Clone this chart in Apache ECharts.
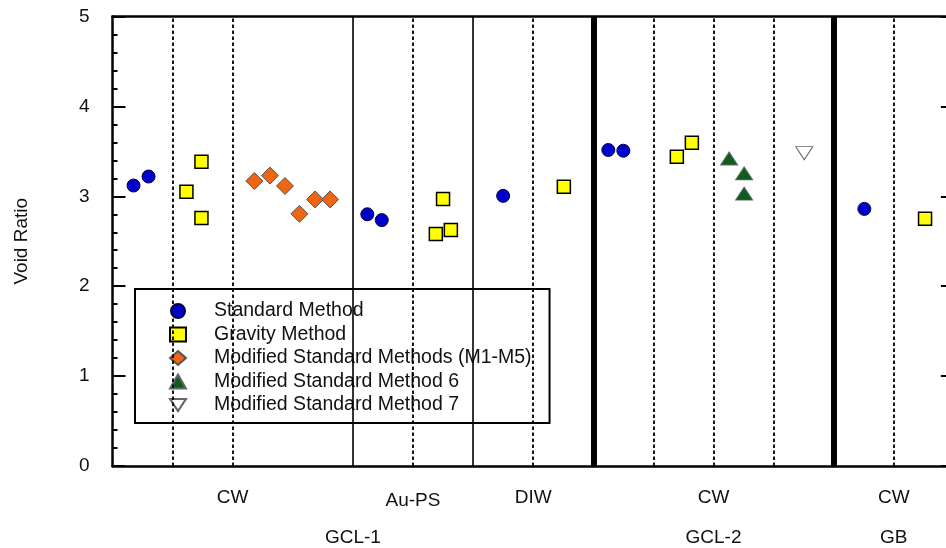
<!DOCTYPE html>
<html>
<head>
<meta charset="utf-8">
<title>Void Ratio</title>
<script src="https://cdn.jsdelivr.net/npm/echarts@6/dist/echarts.min.js"></script>
<style>
html, body { margin: 0; padding: 0; background: #fff; }
#chart { width: 946px; height: 548px; }
</style>
</head>
<body>
<div id="chart"></div>
<script>
// x = position along the test slots (each slot is 1 unit wide), y = void ratio
var standardX = [0.35, 0.60, 4.24, 4.48, 6.50, 8.25, 8.50, 12.51];
var standardY = [3.12, 3.22, 2.80, 2.735, 3.005, 3.515, 3.507, 2.86];
var gravityX = [1.23, 1.48, 1.48, 5.38, 5.50, 5.63, 7.51, 9.39, 9.64, 13.52];
var gravityY = [3.05, 3.385, 2.76, 2.58, 2.97, 2.625, 3.105, 3.44, 3.596, 2.75];
var modifiedX = [2.36, 2.62, 2.87, 3.11, 3.37, 3.62];
var modifiedY = [3.17, 3.23, 3.115, 2.805, 2.965, 2.965];
var method6X = [10.26, 10.51, 10.51];
var method6Y = [3.42, 3.255, 3.03];
var method7X = [11.51];
var method7Y = [3.48];

var fluidLabelAt = [2, 5, 7, 10, 13];
var fluidLabels = ['CW', 'Au-PS', 'DIW', 'CW', 'CW'];
var materialLabelAt = [4, 10, 13];
var materialLabels = ['GCL-1', 'GCL-2', 'GB'];

var dashedDividers = [1, 2, 5, 7, 9, 10, 11, 13];
var thinDividers = [4, 6];
var thickDividers = [8, 12];

var font = 'Liberation Sans, Arial, Helvetica, sans-serif';
var downTriangle = 'path://M0,0 L34,0 L17,26 Z';

function zip(xs, ys) {
    var out = [];
    for (var i = 0; i < xs.length; i++) out.push([xs[i], ys[i]]);
    return out;
}

function labelFor(at, labels, rich) {
    return function (v) {
        var i = at.indexOf(Math.round(v));
        if (i < 0 || Math.abs(v - at[i]) > 1e-6) return '';
        if (rich && labels[i] === 'Au-PS') return '{low|' + labels[i] + '}';
        return labels[i];
    };
}

var dividerLines = [];
dashedDividers.forEach(function (x) {
    dividerLines.push({xAxis: x, lineStyle: {color: '#000', width: 1.8, type: [3.5, 2.5]}});
});
thinDividers.forEach(function (x) {
    dividerLines.push({xAxis: x, lineStyle: {color: '#000', width: 1.6, type: 'solid'}});
});
thickDividers.forEach(function (x) {
    dividerLines.push({xAxis: x, lineStyle: {color: '#000', width: 6, type: 'solid'}});
});

var chart = echarts.init(document.getElementById('chart'));

var xBase = {
    type: 'value', min: 0, max: 14, interval: 1,
    splitLine: {show: false},
    axisTick: {show: false}
};

chart.setOption({
    animation: false,
    textStyle: {fontFamily: font},
    grid: {left: 112.5, top: 16.5, width: 841.4, height: 449.5, outerBoundsMode: 'none', containLabel: false},
    legend: {
        orient: 'vertical',
        left: 135, top: 289,
        padding: [12, 18, 8, 34],
        itemWidth: 16, itemHeight: 14, itemGap: 3.5,
        symbolKeepAspect: true,
        borderColor: '#000', borderWidth: 2,
        backgroundColor: '#fff',
        textStyle: {fontSize: 19.5, color: '#111', fontFamily: font, padding: [0, 0, 0, 23]},
        data: ['Standard Method', 'Gravity Method', 'Modified Standard Methods (M1-M5)',
               'Modified Standard Method 6', 'Modified Standard Method 7']
    },
    xAxis: [
        Object.assign({}, xBase, {
            position: 'bottom',
            axisLine: {show: true, onZero: false, lineStyle: {color: '#000', width: 2.5}},
            axisLabel: {
                margin: 22, fontSize: 19, color: '#111', fontFamily: font,
                formatter: labelFor(fluidLabelAt, fluidLabels, true),
                rich: {low: {fontSize: 19, color: '#111', fontFamily: font, padding: [3, 0, 0, 0]}}
            }
        }),
        Object.assign({}, xBase, {
            position: 'bottom', offset: 40,
            axisLine: {show: false, onZero: false},
            axisLabel: {
                margin: 22, fontSize: 19, color: '#111', fontFamily: font,
                formatter: labelFor(materialLabelAt, materialLabels, false)
            }
        }),
        Object.assign({}, xBase, {
            position: 'top',
            axisLine: {show: true, onZero: false, lineStyle: {color: '#000', width: 2.5}},
            axisLabel: {show: false}
        })
    ],
    yAxis: [
        {
            type: 'value', min: 0, max: 5, interval: 1,
            position: 'left',
            name: 'Void Ratio', nameLocation: 'middle', nameGap: 81, nameRotate: 90,
            nameTextStyle: {fontSize: 19, color: '#111', fontFamily: font},
            splitLine: {show: false},
            axisLine: {show: true, onZero: false, lineStyle: {color: '#000', width: 2.5}},
            axisTick: {show: true, inside: true, length: 13, lineStyle: {color: '#000', width: 2}},
            minorTick: {show: true, splitNumber: 5, length: 5, lineStyle: {color: '#000', width: 2}},
            axisLabel: {margin: 23, fontSize: 19, color: '#111', fontFamily: font}
        },
        {
            type: 'value', min: 0, max: 5, interval: 1,
            position: 'right',
            splitLine: {show: false},
            axisLine: {show: true, onZero: false, lineStyle: {color: '#000', width: 2.5}},
            axisTick: {show: true, inside: true, length: 13, lineStyle: {color: '#000', width: 2}},
            minorTick: {show: true, splitNumber: 5, length: 5, lineStyle: {color: '#000', width: 2}},
            axisLabel: {show: false}
        }
    ],
    series: [
        {
            name: 'Standard Method', type: 'scatter',
            symbol: 'circle', symbolSize: 13,
            itemStyle: {color: '#0000cc', borderColor: '#000044', borderWidth: 1, opacity: 1},
            data: zip(standardX, standardY),
            markLine: {
                silent: true, symbol: ['none', 'none'], label: {show: false},
                animation: false, data: dividerLines
            }
        },
        {
            name: 'Gravity Method', type: 'scatter',
            symbol: 'rect', symbolSize: 13,
            itemStyle: {color: '#ffff00', borderColor: '#000', borderWidth: 1.5, opacity: 1},
            data: zip(gravityX, gravityY)
        },
        {
            name: 'Modified Standard Methods (M1-M5)', type: 'scatter',
            symbol: 'diamond', symbolSize: 17,
            itemStyle: {color: '#ee6611', borderColor: '#555', borderWidth: 1, opacity: 1},
            data: zip(modifiedX, modifiedY)
        },
        {
            name: 'Modified Standard Method 6', type: 'scatter',
            symbol: 'triangle', symbolSize: [17, 13],
            itemStyle: {color: '#0b5e1c', borderColor: '#666', borderWidth: 1, opacity: 1},
            data: zip(method6X, method6Y)
        },
        {
            name: 'Modified Standard Method 7', type: 'scatter',
            symbol: downTriangle, symbolSize: [17, 13],
            itemStyle: {color: '#ffffff', borderColor: '#666', borderWidth: 1, opacity: 1},
            data: zip(method7X, method7Y)
        }
    ]
});
</script>
</body>
</html>
